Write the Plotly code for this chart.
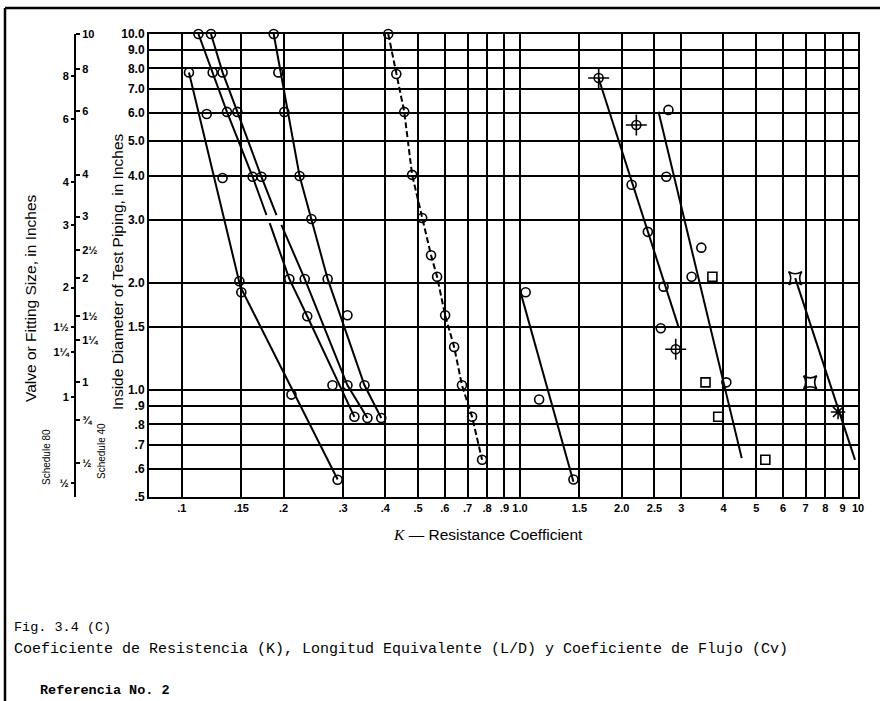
import plotly.graph_objects as go

# ---------------- data (K = resistance coefficient, D = inside diameter, in.) ----------------
x_tickvals = [0.1, 0.15, 0.2, 0.3, 0.4, 0.5, 0.6, 0.7, 0.8, 0.9, 1.0, 1.5, 2.0, 2.5, 3, 4, 5, 6, 7, 8, 9, 10]
x_ticktext = [".1", ".15", ".2", ".3", ".4", ".5", ".6", ".7", ".8", ".9", "1.0", "1.5", "2.0", "2.5",
              "3", "4", "5", "6", "7", "8", "9", "10"]
y_tickvals = [0.5, 0.6, 0.7, 0.8, 0.9, 1.0, 1.5, 2.0, 3.0, 4.0, 5.0, 6.0, 7.0, 8.0, 9.0, 10.0]
y_ticktext = [".5", ".6", ".7", ".8", ".9", "1.0", "1.5", "2.0", "3.0", "4.0", "5.0", "6.0", "7.0",
              "8.0", "9.0", "10.0"]

sch40_id = [9.99, 7.981, 6.065, 4.026, 3.068, 2.469, 2.067, 1.610, 1.380, 1.049, 0.824, 0.622]
sch40_size = ["10", "8", "6", "4", "3", "2½", "2", "1½", "1¼", "1", "¾", "½"]
sch80_id = [7.625, 5.761, 3.826, 2.900, 1.939, 1.500, 1.278, 0.957, 0.546]
sch80_size = ["8", "6", "4", "3", "2", "1½", "1¼", "1", "½"]

# curves (solid)
lineA_k = [0.105, 0.149, 0.289]
lineA_d = [7.8, 1.95, 0.56]
lineB1_k = [0.112, 0.1234, 0.136, 0.162, 0.178]
lineB1_d = [10.0, 7.8, 6.04, 3.97, 3.10]
lineB2_k = [0.182, 0.208, 0.235, 0.324]
lineB2_d = [2.94, 2.05, 1.61, 0.84]
lineC1_k = [0.122, 0.132, 0.146, 0.172, 0.1906]
lineC1_d = [10.0, 7.8, 6.04, 3.97, 3.10]
lineC2_k = [0.197, 0.231, 0.309, 0.354]
lineC2_d = [2.91, 2.05, 1.03, 0.834]
lineE_k = [0.187, 0.223, 0.270, 0.347, 0.389]
lineE_d = [10.0, 3.99, 2.05, 1.03, 0.834]
lineG_k = [1.0, 1.44]
lineG_d = [1.91, 0.552]
lineH_k = [1.71, 2.94]
lineH_d = [7.5, 1.51]
lineI_k = [2.57, 4.53]
lineI_d = [6.05, 0.643]
lineJ_k = [6.52, 9.80]
lineJ_d = [2.06, 0.636]
# dashed curve
lineF_k = [0.408, 0.431, 0.455, 0.480, 0.514, 0.546, 0.569, 0.601, 0.639, 0.674, 0.722, 0.773]
lineF_d = [10.0, 7.72, 6.04, 4.02, 3.04, 2.39, 2.08, 1.62, 1.32, 1.03, 0.84, 0.636]

# test points (open circles)
circ_k = [0.105, 0.1185, 0.132, 0.148, 0.150, 0.211, 0.289,
          0.112, 0.1234, 0.136, 0.162, 0.208, 0.235, 0.279, 0.324,
          0.122, 0.132, 0.146, 0.172, 0.231, 0.309, 0.354,
          0.187, 0.193, 0.201, 0.223, 0.2417, 0.270, 0.309, 0.347, 0.389,
          0.408, 0.431, 0.455, 0.480, 0.514, 0.546, 0.569, 0.601, 0.639, 0.674, 0.722, 0.773,
          1.04, 1.14, 1.44,
          2.14, 2.39, 2.66, 2.61,
          2.75, 2.71, 3.44, 3.22, 4.08]
circ_d = [7.8, 5.96, 3.94, 2.02, 1.88, 0.97, 0.559,
          10.0, 7.8, 6.04, 3.97, 2.05, 1.61, 1.03, 0.84,
          10.0, 7.8, 6.04, 3.97, 2.05, 1.03, 0.834,
          10.0, 7.8, 6.04, 3.99, 3.02, 2.05, 1.62, 1.03, 0.834,
          10.0, 7.72, 6.04, 4.02, 3.04, 2.39, 2.08, 1.62, 1.32, 1.03, 0.84, 0.636,
          1.88, 0.94, 0.56,
          3.77, 2.78, 1.95, 1.49,
          6.12, 3.97, 2.51, 2.08, 1.05]
# circles with four spikes
spike_k = [1.71, 2.21, 2.89]
spike_d = [7.52, 5.55, 1.30]
# square points
sq_k = [3.71, 3.54, 3.86, 5.32]
sq_d = [2.08, 1.05, 0.84, 0.636]
# four-cornered points
star_k = [6.52, 7.22, 10.49]
star_d = [2.06, 1.05, 0.636]
ast_k = [8.73]
ast_d = [0.867]

# ---------------- figure ----------------
fig = go.Figure()

def add_line(k, d, dash="solid"):
    fig.add_trace(go.Scatter(x=k, y=d, mode="lines", line=dict(color="black", width=2, dash=dash),
                             hoverinfo="skip", showlegend=False, cliponaxis=False))

for k, d in [(lineA_k, lineA_d), (lineB1_k, lineB1_d), (lineB2_k, lineB2_d), (lineC1_k, lineC1_d),
             (lineC2_k, lineC2_d), (lineE_k, lineE_d), (lineG_k, lineG_d), (lineH_k, lineH_d),
             (lineI_k, lineI_d), (lineJ_k, lineJ_d)]:
    add_line(k, d)
add_line(lineF_k, lineF_d, dash="6px,3px")

def add_pts(k, d, symbol, size):
    fig.add_trace(go.Scatter(x=k, y=d, mode="markers",
                             marker=dict(symbol=symbol, size=size, color="black",
                                         line=dict(color="black", width=1.6)),
                             hoverinfo="skip", showlegend=False, cliponaxis=False))

add_pts(circ_k, circ_d, "circle-open", 9)
add_pts(spike_k, spike_d, "circle-open", 9)
add_pts(spike_k, spike_d, "cross-thin-open", 15)
add_pts(sq_k, sq_d, "square-open", 9)
add_pts(star_k, star_d, "star-square-open", 12)
add_pts(ast_k, ast_d, "asterisk-open", 12)

# dummy traces to attach the pipe-size axes
fig.add_trace(go.Scatter(x=[1], y=[1], yaxis="y2", mode="markers", marker=dict(opacity=0),
                         hoverinfo="skip", showlegend=False))
fig.add_trace(go.Scatter(x=[1], y=[1], yaxis="y3", mode="markers", marker=dict(opacity=0),
                         hoverinfo="skip", showlegend=False))

L, R, T, B = 10, 37, 34, 204
W, H = 895 - L - R, 701 - T - B

def px(X):
    return (X - L) / W

def py(Y):
    return (701 - B - Y) / H

sans = "Liberation Sans Narrow, Liberation Sans, Arial"
mono = "Liberation Mono, Courier New, monospace"
tick_font = dict(family=sans, size=11, color="black", weight="bold")
yr = [-0.30103, 1.0]

fig.update_layout(
    width=895, height=701,
    margin=dict(l=L, r=R, t=T, b=B, autoexpand=False),
    paper_bgcolor="white", plot_bgcolor="white",
    xaxis=dict(type="log", range=[-1.097, 1.0], domain=[px(149), 1], automargin=False,
               tickvals=x_tickvals, ticktext=x_ticktext, tickfont=tick_font, tickangle=0,
               showgrid=True, gridcolor="black", gridwidth=2,
               showline=True, linecolor="black", linewidth=2, mirror=True,
               ticks="", zeroline=False),
    yaxis=dict(type="log", range=yr, automargin=False,
               tickvals=y_tickvals, ticktext=y_ticktext, tickfont=dict(tick_font, size=12),
               showgrid=True, gridcolor="black", gridwidth=2,
               showline=True, linecolor="black", linewidth=2, mirror=True,
               ticks="", zeroline=False),
    yaxis2=dict(type="log", range=yr, overlaying="y", anchor="free", position=px(75), side="right",
                automargin=False,
                tickvals=sch40_id, ticktext=sch40_size, tickfont=tick_font,
                showgrid=False, showline=True, linecolor="black", linewidth=2,
                ticks="outside", ticklen=4, tickcolor="black", tickwidth=1.5, zeroline=False),
    yaxis3=dict(type="log", range=yr, overlaying="y", anchor="free", position=px(75), side="left",
                automargin=False,
                tickvals=sch80_id, ticktext=sch80_size, tickfont=tick_font,
                showgrid=False, showline=False,
                ticks="outside", ticklen=4, tickcolor="black", tickwidth=1.5, zeroline=False),
)

ann = [
    dict(x=px(30), y=py(298), text="Valve or Fitting Size, in Inches", textangle=-90,
         font=dict(family=sans, size=15.5, color="black")),
    dict(x=px(117), y=py(272), text="Inside Diameter of Test Piping, in Inches", textangle=-90,
         font=dict(family=sans, size=15.5, color="black")),
    dict(x=px(46), y=py(457), text="Schedule 80", textangle=-90,
         font=dict(family=sans, size=10, color="black")),
    dict(x=px(101), y=py(451), text="Schedule 40", textangle=-90,
         font=dict(family=sans, size=10, color="black")),
    dict(x=px(488), y=py(534),
         text="<i><span style='font-family:Liberation Serif'>K</span></i> — Resistance Coefficient",
         font=dict(family=sans, size=15.5, color="black")),
    dict(x=px(12), y=py(627), xanchor="left", text="Fig. 3.4 (C)",
         font=dict(family=mono, size=13.5, color="black")),
    dict(x=px(12), y=py(649), xanchor="left",
         text="Coeficiente de Resistencia (K), Longitud Equivalente (L/D) y Coeficiente de Flujo (Cv)",
         font=dict(family=mono, size=15, color="black")),
    dict(x=px(38), y=py(690), xanchor="left", text="<b>Referencia No. 2</b>",
         font=dict(family=mono, size=13.5, color="black")),
]
for a in ann:
    a.setdefault("xanchor", "center")
    a.update(xref="paper", yref="paper", showarrow=False, yanchor="middle")
fig.update_layout(annotations=ann)

fig.update_layout(shapes=[
    dict(type="line", xref="paper", yref="paper", x0=px(5), x1=px(880), y0=py(8), y1=py(8),
         line=dict(color="black", width=2.5)),
    dict(type="line", xref="paper", yref="paper", x0=px(5), x1=px(5), y0=py(8), y1=py(701),
         line=dict(color="black", width=2.5)),
])

fig.write_html("out.html", config={"displayModeBar": False},
               post_script="document.body.style.margin='0';document.body.style.overflow='hidden';")
